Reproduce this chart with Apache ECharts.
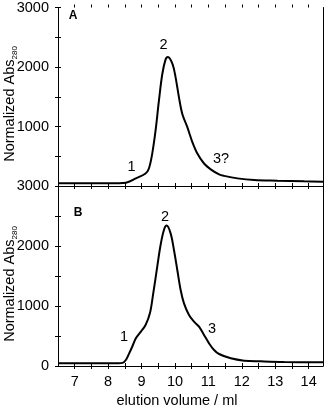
<!DOCTYPE html>
<html><head><meta charset="utf-8">
<script src="https://cdn.jsdelivr.net/npm/echarts@6/dist/echarts.min.js"></script>
<style>html,body{margin:0;padding:0;background:#fff}#c{width:325px;height:408px}</style>
</head><body><div id="c"></div>
<script>
// Panel A: elution volume (ml) and normalized Abs280
const volA = [6.5, 7.5, 8.3, 8.53, 8.83, 9.12, 9.22, 9.32, 9.42, 9.52, 9.62, 9.72, 9.79, 9.93, 10.02, 10.12, 10.22, 10.37, 10.52, 10.67, 10.87, 11.07, 11.32, 11.47, 11.87, 12.37, 13.07, 13.87, 14.43];
const absA = [45, 45, 47, 55, 128, 211, 295, 545, 933, 1433, 1878, 2128, 2170, 2045, 1822, 1489, 1211, 989, 739, 545, 378, 280, 195, 170, 128, 100, 89, 78, 72];
// Panel B
const volB = [6.5, 7.5, 8.3, 8.43, 8.53, 8.63, 8.73, 8.83, 8.98, 9.12, 9.25, 9.35, 9.47, 9.57, 9.67, 9.75, 9.87, 9.97, 10.07, 10.17, 10.27, 10.42, 10.57, 10.72, 10.87, 11.02, 11.17, 11.32, 11.67, 12.07, 12.57, 13.27, 14.43];
const absB = [45, 45, 47, 52, 100, 211, 333, 461, 572, 683, 878, 1211, 1655, 2017, 2267, 2340, 2211, 1933, 1600, 1267, 1044, 850, 739, 656, 517, 378, 267, 200, 128, 89, 78, 67, 61];
const xTickVals = [7, 7.5, 8, 8.5, 9, 9.5, 10, 10.5, 11, 11.5, 12, 12.5, 13, 13.5, 14];
const xLabelVals = [7, 8, 9, 10, 11, 12, 13, 14];
const yTickVals = [0, 500, 1000, 1500, 2000, 2500, 3000];
const yLabelsA = [1000, 2000, 3000];
const yLabelsB = [0, 1000, 2000, 3000];
const peakLabelsA = ['1', '2', '3?'];
const peakLabelsB = ['1', '2', '3'];

const FONT = 'Liberation Sans, Arial, sans-serif';
const line = {show: true, lineStyle: {color: '#000', width: 1}};
const plain = v => String(v);
function xAx(grid, pos, inside, showLine, labels) {
  return {
    type: 'value', gridIndex: grid, position: pos, min: 6.5, max: 14.43,
    axisLine: showLine ? line : {show: false},
    axisTick: {show: true, inside: inside, length: 3, customValues: xTickVals, lineStyle: {color: '#000', width: 1}},
    axisLabel: labels ? {show: true, customValues: xLabelVals, formatter: plain, color: '#000', fontSize: 14.5, fontFamily: FONT, margin: 8} : {show: false},
    splitLine: {show: false}
  };
}
function yAx(grid, pos, inside, showLine, labels, ticks) {
  return {
    type: 'value', gridIndex: grid, position: pos, min: 0, max: 3000, interval: 1000,
    axisLine: showLine ? line : {show: false},
    axisTick: ticks ? {show: true, inside: inside, length: 3, customValues: yTickVals, lineStyle: {color: '#000', width: 1}} : {show: false},
    axisLabel: labels ? {show: true, customValues: labels, formatter: plain, color: '#000', fontSize: 14.5, fontFamily: FONT, margin: 9} : {show: false},
    splitLine: {show: false}
  };
}
const chart = echarts.init(document.getElementById('c'), null, {renderer: 'canvas'});
function txt(t, x, y, size, bold) {
  return {type: 'text', x: x, y: y, style: {text: t, fill: '#000', font: (bold ? 'bold ' : '') + size + 'px ' + FONT, align: 'center', verticalAlign: 'middle'}};
}
function ylab(y) {
  return {type: 'text', x: 10, y: y, rotation: Math.PI / 2,
    style: {text: '{a|Normalized Abs}{s|280}', align: 'center', verticalAlign: 'middle', fill: '#000',
      rich: {a: {fontSize: 14.5, fontFamily: FONT, lineHeight: 18, verticalAlign: 'middle', fill: '#000'},
             s: {fontSize: 8, fontFamily: FONT, lineHeight: 8, verticalAlign: 'bottom', fill: '#000'}}}};
}
chart.setOption({
  animation: false,
  backgroundColor: '#fff',
  grid: [
    {left: 58, top: 6, width: 265, height: 180},
    {left: 58, top: 186, width: 265, height: 180}
  ],
  xAxis: [
    xAx(0, 'bottom', true, true, false),
    xAx(0, 'bottom', false, false, false),
    xAx(0, 'top', true, true, false),
    xAx(0, 'top', false, false, false),
    xAx(1, 'bottom', true, true, true),
    xAx(1, 'bottom', false, false, false)
  ],
  yAxis: [
    yAx(0, 'left', true, true, yLabelsA, true),
    yAx(0, 'left', false, false, null, true),
    yAx(0, 'right', true, true, null, false),
    yAx(1, 'left', true, true, yLabelsB, true),
    yAx(1, 'left', false, false, null, true),
    yAx(1, 'right', true, true, null, false)
  ],
  series: [
    {type: 'line', xAxisIndex: 0, yAxisIndex: 0, data: volA.map((v, i) => [v, absA[i]]), smooth: 0.35, showSymbol: false, lineStyle: {color: '#000', width: 2}},
    {type: 'line', xAxisIndex: 4, yAxisIndex: 3, data: volB.map((v, i) => [v, absB[i]]), smooth: 0.35, showSymbol: false, lineStyle: {color: '#000', width: 2}}
  ],
  graphic: [
    ylab(104), ylab(284),
    txt('elution volume / ml', 177, 401, 14.5, false),
    txt('A', 73, 16, 12, true),
    txt('B', 78, 212.5, 12, true),
    txt(peakLabelsA[0], 131.5, 166.5, 14.5, false),
    txt(peakLabelsA[1], 163.5, 45, 14.5, false),
    txt(peakLabelsA[2], 221, 158.5, 14.5, false),
    txt(peakLabelsB[0], 124, 336.5, 14.5, false),
    txt(peakLabelsB[1], 165, 216.5, 14.5, false),
    txt(peakLabelsB[2], 212, 328.5, 14.5, false)
  ]
});
</script></body></html>
